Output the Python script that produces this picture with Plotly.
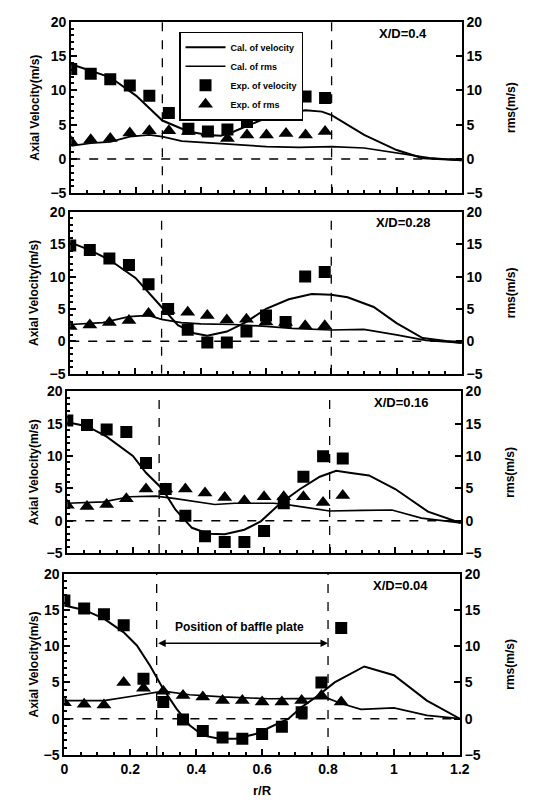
import plotly.graph_objects as go

# ---------------- data ----------------
r_exp = [0.0, 0.06, 0.12, 0.18, 0.24, 0.30, 0.36, 0.42, 0.48, 0.54, 0.60, 0.66, 0.72, 0.78, 0.84]
x_ticks = [0, 0.2, 0.4, 0.6, 0.8, 1.0, 1.2]
x_ticktext = ["0", "0.2", "0.4", "0.6", "0.8", "1", "1.2"]
y_ticks = [-5, 0, 5, 10, 15, 20]
panel_labels = ["X/D=0.4", "X/D=0.28", "X/D=0.16", "X/D=0.04"]

# X/D = 0.4
p1_exp_vel = [13.1, 12.4, 11.6, 10.7, 9.2, 6.7, 4.4, 4.0, 4.3, 5.4, 8.0, 9.1, 9.1, 8.9]
p1_exp_rms = [2.5, 2.8, 3.0, 3.8, 4.1, 4.1, 4.0, 3.8, 3.0, 3.5, 3.5, 3.7, 3.5, 4.0]
p1_cal_r = [0.0, 0.12, 0.2, 0.28, 0.36, 0.42, 0.46, 0.5, 0.58, 0.65, 0.72, 0.77, 0.8, 0.9, 1.0, 1.08, 1.2]
p1_cal_vel = [13.8, 11.9, 9.2, 5.6, 4.0, 3.5, 3.4, 4.0, 5.6, 6.6, 7.1, 6.9, 6.4, 3.5, 1.3, 0.1, -0.2]
p1_rms_r = [0.0, 0.06, 0.12, 0.18, 0.24, 0.28, 0.34, 0.4, 0.5, 0.6, 0.7, 0.8, 0.9, 1.0, 1.1, 1.2]
p1_cal_rms = [1.9, 2.3, 2.5, 3.25, 3.5, 3.25, 2.6, 2.4, 2.05, 1.8, 1.7, 1.8, 1.6, 0.9, 0.15, -0.2]

# X/D = 0.28
p2_exp_vel = [14.8, 14.1, 12.8, 11.8, 8.8, 5.0, 1.8, -0.2, -0.2, 1.5, 4.0, 3.0, 10.0, 10.7]
p2_exp_rms = [2.3, 2.5, 2.9, 3.2, 4.3, 4.8, 4.5, 4.0, 3.3, 3.4, 3.0, 2.9, 2.4, 2.4]
p2_cal_r = [0.0, 0.06, 0.12, 0.2, 0.28, 0.33, 0.38, 0.42, 0.48, 0.54, 0.6, 0.67, 0.74, 0.8, 0.85, 0.93, 1.0, 1.08, 1.2]
p2_cal_vel = [15.3, 14.1, 12.6, 9.8, 5.3, 2.5, 1.25, 0.85, 1.5, 3.0, 5.0, 6.5, 7.3, 7.2, 6.8, 5.3, 2.8, 0.5, -0.25]
p2_rms_r = [0.0, 0.1, 0.18, 0.24, 0.28, 0.34, 0.4, 0.5, 0.6, 0.68, 0.8, 0.9, 1.0, 1.09, 1.2]
p2_cal_rms = [2.6, 2.9, 3.8, 4.0, 3.4, 2.9, 2.7, 2.6, 2.3, 2.0, 1.75, 1.85, 1.0, 0.15, -0.25]

# X/D = 0.16
p3_exp_vel = [15.5, 14.8, 14.1, 13.7, 8.9, 4.9, 0.75, -2.4, -3.3, -3.3, -1.6, 2.7, 6.8, 9.95, 9.6]
p3_exp_rms = [2.4, 2.2, 2.5, 3.4, 4.9, 4.9, 4.9, 4.3, 3.6, 3.1, 3.7, 3.7, 3.7, 2.8, 3.9]
p3_cal_r = [0.0, 0.06, 0.12, 0.2, 0.24, 0.29, 0.33, 0.38, 0.43, 0.48, 0.54, 0.59, 0.65, 0.71, 0.77, 0.82, 0.86, 0.92, 1.0, 1.1, 1.2]
p3_cal_vel = [15.2, 14.6, 13.0, 10.0, 7.4, 4.9, 1.7, -1.1, -2.0, -2.1, -1.4, -0.1, 2.7, 4.9, 6.8, 7.7, 7.4, 7.0, 4.9, 1.4, -0.35]
p3_rms_r = [0.0, 0.11, 0.19, 0.27, 0.33, 0.39, 0.45, 0.51, 0.63, 0.68, 0.74, 0.8, 0.9, 0.99, 1.08, 1.2]
p3_cal_rms = [2.7, 2.9, 3.7, 3.8, 3.4, 2.9, 2.5, 2.7, 2.7, 2.4, 1.9, 1.5, 1.6, 1.65, 0.4, -0.35]

# X/D = 0.04
p4_exp_vel = [16.3, 15.2, 14.4, 12.9, 5.5, 2.3, -0.1, -1.7, -2.6, -2.75, -2.1, -1.1, 0.9, 5.0, 12.5]
p4_exp_rms = [2.2, 2.0, 1.9, 5.0, 4.2, 3.8, 3.2, 3.0, 2.5, 2.5, 2.3, 2.3, 2.5, 3.2, 2.3]
p4_cal_r = [0.0, 0.06, 0.12, 0.18, 0.22, 0.26, 0.3, 0.34, 0.38, 0.42, 0.47, 0.52, 0.58, 0.63, 0.68, 0.72, 0.77, 0.82, 0.86, 0.91, 1.0, 1.1, 1.2]
p4_cal_vel = [15.6, 15.0, 13.8, 11.9, 10.1, 7.3, 4.1, 1.4, -0.9, -2.3, -2.75, -2.75, -2.1, -1.1, 0.0, 1.6, 3.2, 5.0, 6.0, 7.2, 6.0, 2.5, 0.0]
p4_rms_r = [0.0, 0.12, 0.22, 0.3, 0.38, 0.48, 0.62, 0.72, 0.8, 0.84, 0.9, 1.0, 1.1, 1.2]
p4_cal_rms = [2.5, 2.5, 3.2, 3.8, 3.3, 3.0, 2.75, 2.75, 2.8, 2.1, 1.3, 1.5, 0.45, 0.0]

panels = [
    (p1_exp_vel, p1_exp_rms, p1_cal_r, p1_cal_vel, p1_rms_r, p1_cal_rms),
    (p2_exp_vel, p2_exp_rms, p2_cal_r, p2_cal_vel, p2_rms_r, p2_cal_rms),
    (p3_exp_vel, p3_exp_rms, p3_cal_r, p3_cal_vel, p3_rms_r, p3_cal_rms),
    (p4_exp_vel, p4_exp_rms, p4_cal_r, p4_cal_vel, p4_rms_r, p4_cal_rms),
]

# ---------------- layout geometry (pixels) ----------------
W, H = 539, 812
px_x = [(69, 470), (68, 470), (65, 469), (62, 468)]
px_y = [(14, 189), (208, 373), (391, 556), (577, 762)]

FONT = "Liberation Sans"
fig = go.Figure()

layout = dict(
    width=W, height=H,
    margin=dict(l=0, r=0, t=0, b=0),
    paper_bgcolor="white", plot_bgcolor="white",
    font=dict(family=FONT, color="black", size=12, weight="bold"),
    showlegend=True,
    legend=dict(
        x=180 / W, y=1 - 24 / H, xanchor="left", yanchor="top",
        bgcolor="white", bordercolor="black", borderwidth=1.2,
        font=dict(family=FONT, size=9, weight="bold"),
        tracegroupgap=0, itemwidth=40,
    ),
)

shapes = []
annotations = []

for i, (ev, er, cr, cv, rr, crms) in enumerate(panels):
    n = i + 1
    xa = "x" if n == 1 else f"x{n}"
    ya = f"y{2*n-1}" if n > 1 else "y"
    yb = f"y{2*n}"
    xkey = "xaxis" if n == 1 else f"xaxis{n}"
    yakey = "yaxis" if n == 1 else f"yaxis{2*n-1}"
    ybkey = f"yaxis{2*n}"
    x0, x1 = px_x[i]
    yt, ybot = px_y[i]
    leg = (n == 1)

    fig.add_trace(go.Scatter(x=cr, y=cv, mode="lines", line=dict(color="black", width=2),
                             name="Cal. of velocity", xaxis=xa, yaxis=ya, showlegend=leg, legendrank=1))
    fig.add_trace(go.Scatter(x=rr, y=crms, mode="lines", line=dict(color="black", width=1.7),
                             name="Cal. of rms", xaxis=xa, yaxis=yb, showlegend=leg, legendrank=2))
    fig.add_trace(go.Scatter(x=r_exp[:len(er)], y=er, mode="markers",
                             marker=dict(symbol="triangle-up", size=13, color="black"),
                             name="Exp. of rms", xaxis=xa, yaxis=yb, showlegend=leg, legendrank=4))
    fig.add_trace(go.Scatter(x=r_exp[:len(ev)], y=ev, mode="markers",
                             marker=dict(symbol="square", size=12, color="black"),
                             name="Exp. of velocity", xaxis=xa, yaxis=ya, showlegend=leg, legendrank=3))

    layout[xkey] = dict(
        domain=[x0 / W, x1 / W], anchor=ya, range=[0, 1.2],
        tickvals=x_ticks, ticktext=x_ticktext, showticklabels=(n == 4),
        ticks="inside", ticklen=6, tickwidth=1.5, tickcolor="black",
        minor=dict(ticks="inside", ticklen=3, dtick=0.05, tickcolor="black"),
        showline=True, linecolor="black", linewidth=2, mirror=True,
        showgrid=False, zeroline=False,
        tickfont=dict(size=14, weight="bold", family=FONT),
    )
    layout[yakey] = dict(
        domain=[1 - ybot / H, 1 - yt / H], anchor=xa, range=[-5, 20],
        tickvals=y_ticks, ticks="inside", ticklen=6, tickwidth=1.5, tickcolor="black",
        minor=dict(ticks="inside", ticklen=3, dtick=1, tickcolor="black"),
        showline=True, linecolor="black", linewidth=2, mirror=False,
        showgrid=False, zeroline=False,
        tickfont=dict(size=14, weight="bold", family=FONT),
    )
    layout[ybkey] = dict(
        overlaying=ya, anchor=xa, side="right", range=[-5, 20],
        tickvals=y_ticks, ticks="inside", ticklen=6, tickwidth=1.5, tickcolor="black",
        showline=True, linecolor="black", linewidth=2,
        showgrid=False, zeroline=False,
        tickfont=dict(size=14, weight="bold", family=FONT),
    )

    # dashed zero line and baffle-plate lines
    shapes.append(dict(type="line", xref=xa, yref=ya, x0=0, x1=1.2, y0=0, y1=0,
                       line=dict(color="black", width=1.5, dash="dash")))
    for xv in (0.28, 0.8):
        shapes.append(dict(type="line", xref=xa, yref=ya, x0=xv, x1=xv, y0=-5, y1=20,
                           line=dict(color="black", width=1.3, dash="dash")))

    annotations.append(dict(x=1.02, y=18.3, xref=xa, yref=ya, text=panel_labels[i],
                            xanchor="center", yanchor="middle",
                            showarrow=False, font=dict(size=13, weight="bold", family=FONT)))
    # axis titles
    yc = 1 - (yt + ybot) / 2 / H
    annotations.append(dict(x=31 / W, y=yc, xref="paper", yref="paper", text="Axial Velocity(m/s)",
                            xanchor="center", yanchor="middle", textangle=-90, showarrow=False,
                            font=dict(size=12, weight="bold", family=FONT)))
    annotations.append(dict(x=520 / W, y=yc, xref="paper", yref="paper", text="rms(m/s)",
                            xanchor="center", yanchor="middle", textangle=-90, showarrow=False,
                            font=dict(size=12, weight="bold", family=FONT)))

# baffle plate annotation (bottom panel)
annotations.append(dict(x=0.53, y=12.6, xref="x4", yref="y7", text="Position of baffle plate",
                        xanchor="center", yanchor="middle",
                        showarrow=False, font=dict(size=12, weight="bold", family=FONT)))
annotations.append(dict(x=0.8, y=10.4, ax=0.28, ay=10.4, xref="x4", yref="y7", axref="x4", ayref="y7",
                        text="", showarrow=True, arrowhead=2, arrowside="end+start",
                        arrowwidth=1.5, arrowsize=1, arrowcolor="black"))
annotations.append(dict(x=(px_x[3][0] + px_x[3][1]) / 2 / W, y=1 - 798 / H, xref="paper", yref="paper",
                        text="r/R", xanchor="center", yanchor="middle",
                        showarrow=False, font=dict(size=13, weight="bold", family=FONT)))

layout["shapes"] = shapes
layout["annotations"] = annotations
fig.update_layout(**layout)
fig.write_html("out.html")
